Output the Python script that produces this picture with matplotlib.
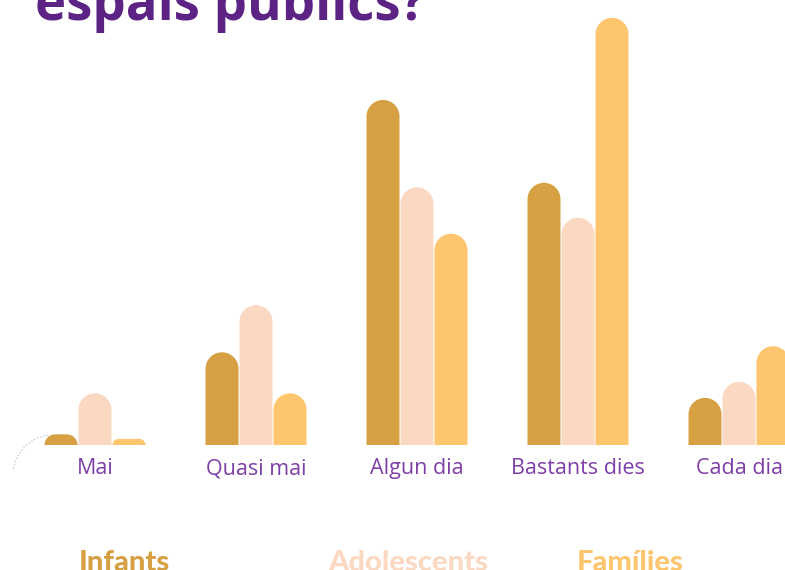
import matplotlib
matplotlib.use("Agg")
import matplotlib.pyplot as plt
from matplotlib.path import Path
from matplotlib.patches import PathPatch, Arc
import numpy as np

categories = ["Mai", "Quasi mai", "Algun dia", "Bastants dies", "Cada dia"]
series_names = ["Infants", "Adolescents", "Famílies"]
infants = [1.4, 12.2, 45.4, 34.5, 6.2]
adolescents = [6.8, 18.4, 33.9, 29.9, 8.3]
families = [0.8, 6.8, 27.8, 56.2, 13.0]
series = [infants, adolescents, families]
colors = ["#D6A043", "#FBD8C1", "#FEC56F"]

W, H = 785, 570
fig = plt.figure(figsize=(W / 100, H / 100), dpi=100)
ax = fig.add_axes([0, (H - 445) / H, 1, 445 / H])

px_x = 161.0   # pixels per category unit
ylim_top = 58.55
px_y = 445.0 / ylim_top
ax.set_xlim(-95 / px_x, (W - 95) / px_x)
ax.set_ylim(0, ylim_top)
ax.axis("off")

bw = 33 / px_x
step = 34 / px_x
k = 0.5523

def rounded_bar(xc, h):
    x0, x1 = xc - bw / 2, xc + bw / 2
    h_px = h * px_y
    r_px = min(16.5, h_px)
    rx = r_px / px_x
    ry = r_px / px_y
    verts = [(x0, 0), (x0, h - ry),
             (x0, h - ry + k * ry), (x0 + rx - k * rx, h), (x0 + rx, h),
             (x1 - rx, h),
             (x1 - rx + k * rx, h), (x1, h - ry + k * ry), (x1, h - ry),
             (x1, 0), (x0, 0)]
    codes = [Path.MOVETO, Path.LINETO,
             Path.CURVE4, Path.CURVE4, Path.CURVE4,
             Path.LINETO,
             Path.CURVE4, Path.CURVE4, Path.CURVE4,
             Path.LINETO, Path.CLOSEPOLY]
    return Path(verts, codes)

for si, (vals, col) in enumerate(zip(series, colors)):
    for ci, v in enumerate(vals):
        xc = ci + (si - 1) * step
        ax.add_patch(PathPatch(rounded_bar(xc, v), facecolor=col,
                               edgecolor="none", clip_on=False))

label_font = ["Open Sans", "DejaVu Sans"]
for ci, cat in enumerate(categories):
    ax.text(ci, -23.5 / px_y, cat, ha="center", va="center", fontsize=15.5,
            color="#7E3FA6", family=label_font, clip_on=False)

# faint decorative arc at lower left
arc = Arc((53 / W, 1 - 475 / H), 80 / W, 80 / H, theta1=95, theta2=172,
          transform=fig.transFigure, color="#BBBBBB", lw=0.6,
          linestyle=(0, (2, 2)))
fig.add_artist(arc)

fig.text(35 / W, 1 - 20 / H, "espais públics?", ha="left", va="baseline",
         fontsize=38, fontweight="bold", color="#5C2384", family=label_font)

legend_x = [124, 408, 630]
for name, col, lx in zip(series_names, colors, legend_x):
    fig.text(lx / W, 1 - 571 / H, name, ha="center", va="baseline",
             fontsize=21, fontweight="black", color=col,
             family=["Lato", "DejaVu Sans"])

fig.savefig("out.png", dpi=100, facecolor="white")
